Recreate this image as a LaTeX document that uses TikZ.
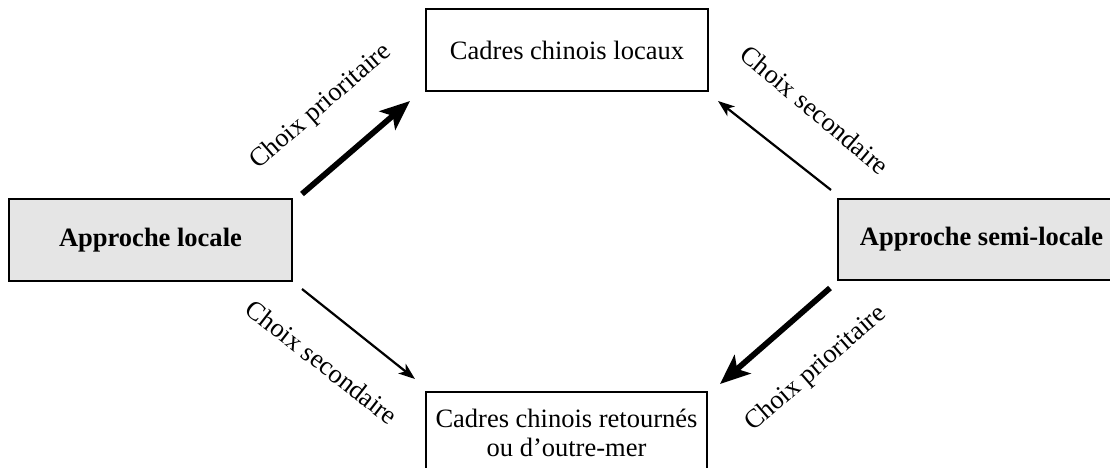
\documentclass[tikz,border=0pt]{standalone}
\usepackage{fontspec}
\setmainfont{Liberation Serif}
\usetikzlibrary{arrows.meta}

\begin{document}
\begin{tikzpicture}[x=0.4528pt,y=-0.4528pt,
	boite/.style={draw,line width=0.5pt,align=center,inner sep=0pt,font=\fontsize{12}{13.1}\selectfont},
	approche/.style={boite,fill=gray!20,font=\fontsize{12}{13.1}\selectfont\bfseries},
	fleche/.style={line width=1pt,-{Stealth[length=7.5pt,width=5.5pt,inset=2pt]}},
	grossefleche/.style={line width=2.6pt,-{Stealth[length=13.5pt,width=11pt,inset=3.2pt]}},
	choix/.style={font=\fontsize{12}{13.1}\selectfont,inner sep=0pt}]
		\clip(0,0) rectangle (1110,468);
		\node[boite,minimum width=127.7pt,minimum height=37.1pt](locaux) at (567,50){Cadres chinois locaux};
		\node[boite,minimum width=127.2pt,minimum height=37.1pt](retour) at (566.5,433){Cadres chinois retournés\\ou d’outre-mer};
		\node[approche,minimum width=128.1pt,minimum height=37.1pt](locale) at (150.5,240){Approche locale};
		\node[approche,minimum width=130pt,minimum height=36.7pt](semi) at (981.5,239.5){Approche semi-locale};
		\coordinate(a1) at (302,194);
		\coordinate(b1) at (410,101);
		\coordinate(a2) at (302,289);
		\coordinate(b2) at (415,379);
		\coordinate(a3) at (831,190);
		\coordinate(b3) at (718,101);
		\coordinate(a4) at (830,288);
		\coordinate(b4) at (720,384);
		\draw[grossefleche](a1)--(b1);
		\draw[fleche](a2)--(b2);
		\draw[fleche](a3)--(b3);
		\draw[grossefleche](a4)--(b4);
		\node[choix,rotate=41](c1) at (321,107){Choix prioritaire};
		\node[choix,rotate=-40](c2) at (815,110){Choix secondaire};
		\node[choix,rotate=-38](c3) at (322,362){Choix secondaire};
		\node[choix,rotate=41](c4) at (816,369){Choix prioritaire};
\end{tikzpicture}
\end{document}
